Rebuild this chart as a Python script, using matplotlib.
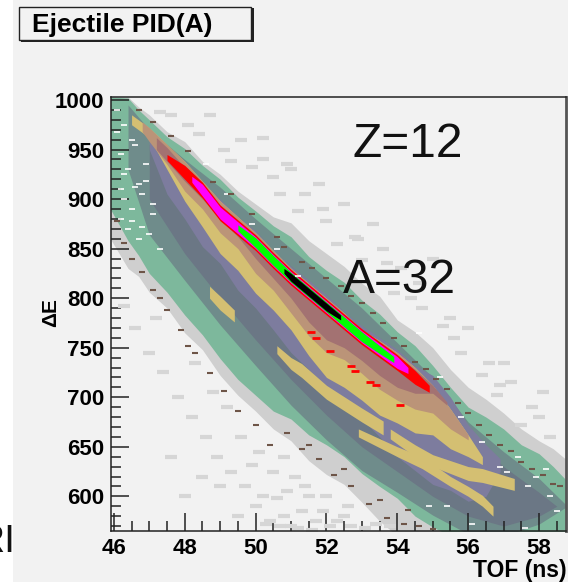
import matplotlib
matplotlib.use("Agg")
import matplotlib.pyplot as plt
from matplotlib.patches import Rectangle
from matplotlib.ticker import MultipleLocator

# bandas (TOF en ns, dE)
gray_x = [45.9, 46.4, 46.7, 47, 47.5, 48, 48.5, 49, 49.5, 50, 50.5, 51, 51.5, 52, 52.5, 53, 53.5, 54, 54.5, 55, 55.5, 56, 56.5, 57, 57.5, 58, 58.4, 58.8]
gray_top = [1003, 1003, 993, 985, 968, 958, 938, 925, 908, 895, 882, 876, 858, 845, 832, 815, 802, 778, 766, 750, 728, 710, 698, 684, 668, 656, 648, 636]
gray_bot = [860, 830, 822, 806, 790, 765, 748, 722, 702, 686, 668, 656, 636, 622, 612, 594, 575, 560, 560, 560, 560, 560, 560, 560, 560, 560, 560, 560]
green_top = [1003, 1002, 990, 980, 963, 951, 934, 920, 902, 888, 873, 862, 842, 828, 816, 798, 784, 766, 752, 732, 710, 690, 680, 668, 652, 643, 630, 615]
green_bot = [890, 858, 843, 825, 806, 783, 763, 739, 718, 702, 686, 678, 662, 652, 640, 623, 610, 598, 580, 569, 560, 560, 560, 560, 560, 560, 560, 560]

teal_x = [46.4, 47, 48, 49, 50, 51, 52, 53, 54, 55, 56, 57, 58, 58.8]
teal_top = [995, 970, 940, 912, 880, 850, 820, 790, 755, 720, 675, 645, 618, 590]
teal_bot = [930, 864, 818, 773, 732, 692, 657, 626, 604, 581, 562, 560, 572, 590]

slate_x = [47, 48, 49, 50, 51, 52, 53, 54, 55, 56, 57, 58, 58.5]
slate_top = [955, 925, 895, 860, 832, 802, 770, 740, 706, 664, 630, 604, 590]
slate_bot = [900, 845, 800, 758, 718, 682, 650, 625, 600, 580, 570, 580, 590]

purple_x = [47, 47.5, 48, 48.5, 49, 49.5, 50, 50.5, 51, 51.5, 52, 52.5, 53, 53.5, 54, 54.5, 55, 55.5, 56, 56.5, 56.9]
purple_top = [972, 952, 938, 915, 900, 882, 868, 848, 832, 818, 803, 786, 772, 760, 748, 732, 722, 700, 672, 652, 638]
purple_bot = [950, 905, 880, 852, 835, 808, 790, 768, 745, 728, 710, 692, 678, 660, 640, 626, 612, 606, 595, 600, 625]

yellow_x = [46.5, 47, 47.5, 48, 48.5, 49, 49.5, 50, 50.5, 51, 51.5, 52, 52.5, 53, 53.5, 54, 54.5, 55, 55.5, 56, 56.4]
yellow_top = [985, 972, 955, 938, 918, 898, 882, 866, 848, 830, 815, 800, 785, 768, 757, 745, 730, 712, 688, 662, 640]
yellow_bot = [975, 962, 930, 898, 872, 845, 828, 805, 788, 768, 742, 720, 710, 697, 682, 674, 664, 662, 648, 640, 632]

tan_x = [46.8, 47, 47.5, 48, 48.5, 49, 49.5, 50, 50.5, 51, 51.5, 52, 52.5, 53, 53.5, 54, 54.5, 55, 55.5, 56]
tan_top = [978, 972, 955, 938, 918, 898, 882, 866, 848, 830, 815, 800, 785, 768, 757, 745, 730, 712, 688, 662]
tan_bot = [968, 958, 935, 908, 890, 866, 850, 825, 808, 785, 762, 745, 738, 724, 708, 697, 688, 684, 668, 657]

mauve_x = [47.2, 47.5, 48, 48.5, 49, 49.5, 50, 50.5, 51, 51.5, 52, 52.5, 53, 53.5, 54, 54.5, 55, 55.4]
mauve_top = [962, 952, 932, 912, 894, 878, 863, 845, 828, 813, 798, 783, 766, 755, 742, 728, 712, 695]
mauve_bot = [950, 938, 918, 900, 880, 862, 840, 820, 800, 776, 758, 750, 737, 722, 710, 704, 704, 692]

rowb1_x = [48.7, 49, 49.4]
rowb1_top = [812, 802, 788]
rowb1_bot = [800, 788, 776]
rowb2_x = [50.6, 51, 51.3, 52, 53, 53.6]
rowb2_top = [752, 740, 734, 712, 689, 676]
rowb2_bot = [744, 728, 720, 698, 675, 662]
rowb3_x = [53.8, 54.5, 55, 56, 56.4, 57.3]
rowb3_top = [668, 652, 642, 630, 628, 618]
rowb3_bot = [658, 640, 630, 616, 614, 606]

rowc_x = [52.9, 54, 54.7, 55.5, 56, 56.4, 56.7]
rowc_top = [668, 650, 640, 620, 610, 601, 590]
rowc_bot = [660, 640, 628, 610, 600, 590, 580]

# cresta principal
ridge_x = [47.5, 48, 48.5, 49, 49.5, 50, 50.5, 51, 51.5, 52, 52.5, 53, 53.5, 54, 54.5, 54.9]
red_top = [945, 934, 917, 894, 879, 864, 846, 829, 814, 799, 784, 769, 756, 743, 727, 712]
red_bot = [939, 920, 901, 878, 863, 848, 830, 813, 798, 783, 768, 753, 740, 727, 713, 705]
mag_x = [48.2, 48.5, 49, 49.5, 50, 50.5, 51, 51.5, 52, 52.5, 53, 53.5, 54, 54.3]
mag_top = [923, 915, 892, 877, 862, 844, 827, 812, 797, 782, 767, 754, 741, 730]
mag_bot = [917, 903, 880, 865, 850, 832, 815, 800, 785, 770, 755, 742, 729, 724]
lime_x = [49.5, 50, 50.5, 51, 51.5, 52, 52.5, 53, 53.5, 53.9]
lime_top = [874, 861, 843, 826, 811, 796, 781, 766, 752, 741]
lime_bot = [868, 851, 833, 816, 801, 786, 771, 756, 744, 735]
black_x = [50.8, 51, 51.5, 52, 52.4]
black_top = [830, 825, 810, 795, 783]
black_bot = [825, 817, 802, 787, 778]

red_spot_x = [51.55, 51.7, 52.1, 52.68, 52.8, 53.24, 53.4, 54.08]
red_spot_y = [766, 760, 747, 732, 726, 715, 712, 692]

# motas sueltas
gray_speck_x = [47.3, 47.6, 48.1, 48.4, 48.7, 49.1, 49.3, 49.6, 49.9, 50.2, 50.5, 50.7, 50.9, 51.2, 51.4, 51.8, 52.0, 52.3,
                52.5, 52.9, 53.0, 53.3, 53.6, 53.9, 54.1, 54.4, 54.6, 55.0, 55.3, 55.5, 55.8, 56.0, 56.4, 56.6, 56.8, 57.0,
                57.2, 57.5, 57.8, 58.1, 58.3, 50.2, 51.0, 51.9, 52.8, 53.7, 54.7, 55.6, 56.9, 58.0]
gray_speck_y = [988, 985, 975, 966, 985, 950, 938, 960, 932, 940, 922, 905, 935, 888, 905, 915, 878, 855,
                895, 860, 838, 875, 850, 805, 830, 800, 815, 840, 772, 780, 745, 770, 722, 735, 702, 735,
                715, 672, 690, 705, 660, 962, 930, 890, 862, 835, 790, 760, 712, 680]
low_speck_x = [46.3, 46.6, 47.0, 47.4, 47.6, 47.8, 48.0, 48.2, 48.6, 48.9, 49.3, 49.7, 50.0, 50.4, 50.8, 51.1, 51.5, 51.9, 52.3,
               52.7, 53.1, 48.3, 48.8, 49.2, 49.6, 50.1, 50.5, 50.9, 51.3, 51.7, 52.1, 52.5, 49.5, 50.2, 50.7, 51.2, 51.6,
               50.3, 50.8, 51.4, 52.0, 52.6, 49.0, 49.9, 50.6, 51.0, 53.4, 53.8, 47.2, 48.5]
low_speck_y = [792, 770, 745, 725, 640, 700, 600, 680, 660, 640, 625, 610, 590, 575, 640, 620, 600, 585, 575,
               570, 568, 735, 705, 690, 660, 645, 625, 605, 585, 575, 570, 580, 580, 600, 570, 568, 566, 572, 580, 610, 600, 590,
               610, 632, 598, 570, 572, 570, 780, 620]
white_x = [46.1, 46.3, 46.5, 46.2, 46.4, 46.7, 46.3, 46.6, 46.9, 46.2, 46.5, 46.8, 47.1, 46.4, 46.7,
           47.0, 47.3, 46.1, 46.3, 46.6, 46.9, 47.1, 46.2, 46.5, 46.8, 48.6, 49.2, 49.9, 50.6, 51.2,
           54.6, 55.2, 55.8, 56.4, 56.9, 57.4, 57.9, 58.3, 58.5, 55.4, 56.1, 57.6, 54.9, 58.6, 57.1, 57.7, 58.2]
white_y = [990, 975, 960, 945, 930, 915, 900, 955, 935, 880, 890, 905, 885, 870, 860,
           865, 850, 968, 925, 912, 918, 895, 910, 878, 872, 935, 905, 875, 850, 822,
           765, 720, 680, 655, 630, 640, 620, 600, 585, 590, 572, 568, 590, 610, 625, 610, 628]
brown_x = [46.1, 46.3, 46.5, 46.8, 47.1, 47.3, 47.5, 47.9, 48.1, 48.3, 48.7, 49.1, 49.5, 50.0, 50.4, 50.9, 51.3, 51.8, 52.2,
           52.7, 53.2, 53.7, 54.2, 54.6, 55.0, 46.7, 47.1, 47.6, 48.1, 48.8, 49.3, 49.9, 50.6, 51.3, 52.0, 52.7,
           53.3, 53.9, 54.5, 55.1, 55.7, 56.3, 56.9, 57.5, 58.1, 58.6, 50.8, 51.6, 52.4, 53.0, 53.6, 54.2, 54.8,
           55.4, 56.0, 56.6, 57.2, 57.8, 58.4, 51.5, 52.5, 53.5, 54.3]
brown_y = [878, 856, 840, 826, 808, 800, 788, 768, 752, 745, 724, 706, 686, 672, 652, 664, 648, 638, 622,
           610, 592, 578, 572, 570, 567, 990, 978, 964, 948, 917, 905, 885, 862, 836, 820, 802,
           785, 760, 736, 718, 694, 672, 652, 635, 622, 610, 852, 830, 812, 795, 775, 752, 728,
           708, 684, 662, 646, 628, 612, 652, 628, 596, 586]

xticks = [46, 48, 50, 52, 54, 56, 58]
yticks = [600, 650, 700, 750, 800, 850, 900, 950, 1000]

plt.rcParams['font.family'] = ['Liberation Sans', 'DejaVu Sans']

fig = plt.figure(figsize=(5.68, 5.82), dpi=100, facecolor='white')
W, H = 568.0, 582.0

# fondo gris del panel, tapa el texto que asoma a la izquierda
rl = fig.text(16 / W, 1 - 552 / H, "RI", fontsize=28, ha='right', va='baseline', color='#111111')
rl.set_zorder(-10)
panel = Rectangle((13 / W, 0), 555 / W, 1, transform=fig.transFigure,
                  facecolor='#f2f2f2', edgecolor='none', zorder=-5)
fig.patches.append(panel)

ax = fig.add_axes([111 / W, 1 - 531 / H, 455 / W, 434 / H])
ax.set_facecolor('#f2f2f2')

ax.plot(gray_speck_x, gray_speck_y, ls='none', marker='_', ms=8, mew=3, color='#d6d6d6')
ax.plot(low_speck_x, low_speck_y, ls='none', marker='_', ms=8, mew=3, color='#d6d6d6')
ax.fill_between(gray_x, gray_bot, gray_top, color='#cfcfcf', lw=0)
ax.fill_between(gray_x, green_bot, green_top, color='#7db89c', lw=0)
ax.fill_between(teal_x, teal_bot, teal_top, color='#6f8c8b', lw=0)
ax.fill_between(slate_x, slate_bot, slate_top, color='#6b7785', lw=0)
ax.fill_between(purple_x, purple_bot, purple_top, color='#7d7c9e', lw=0)
ax.fill_between(yellow_x, yellow_bot, yellow_top, color='#d4bf72', lw=0)
ax.fill_between(rowb1_x, rowb1_bot, rowb1_top, color='#d4bf72', lw=0)
ax.fill_between(rowb2_x, rowb2_bot, rowb2_top, color='#d4bf72', lw=0)
ax.fill_between(rowb3_x, rowb3_bot, rowb3_top, color='#d4bf72', lw=0)
ax.fill_between(rowc_x, rowc_bot, rowc_top, color='#d4bf72', lw=0)
ax.fill_between(tan_x, tan_bot, tan_top, color='#bb9478', lw=0)
ax.fill_between(mauve_x, mauve_bot, mauve_top, color='#a37272', lw=0)
ax.fill_between(ridge_x, red_bot, red_top, color='#ff0000', lw=0)
ax.fill_between(mag_x, mag_bot, mag_top, color='#ff00ff', lw=0)
ax.fill_between(lime_x, lime_bot, lime_top, color='#00ff00', lw=0)
ax.fill_between(black_x, black_bot, black_top, color='black', lw=0)
ax.plot(red_spot_x, red_spot_y, ls='none', marker='_', ms=6, mew=2, color='#ff0000')
ax.plot(white_x, white_y, ls='none', marker='_', ms=5, mew=1.2, color='white')
ax.plot(brown_x, brown_y, ls='none', marker='_', ms=4, mew=1.5, color='#6e5548')

ax.set_xlim(45.92, 58.76)
ax.set_ylim(565, 1003)
ax.set_xticks(xticks)
ax.set_yticks(yticks)
ax.xaxis.set_minor_locator(MultipleLocator(0.5))
ax.yaxis.set_minor_locator(MultipleLocator(10))
ax.tick_params(which='major', direction='in', length=13, width=1.1, labelsize=16, pad=5, color='#222222')
ax.tick_params(which='minor', direction='in', length=7, width=1.1, color='#222222')
for lab in ax.get_xticklabels() + ax.get_yticklabels():
    lab.set_fontweight('bold')
for s in ax.spines.values():
    s.set_color('#222222')
    s.set_linewidth(1.1)
ax.spines['right'].set_color('#555555')
ax.spines['right'].set_linewidth(2)

fig.text(567 / W, 1 - 570 / H, "TOF (ns)", fontsize=16.5, fontweight='bold', ha='right', va='center')
fig.text(51 / W, 1 - 313 / H, "\u0394E", fontsize=15, fontweight='bold', rotation=90, ha='center', va='center')
fig.text(353 / W, 1 - 157 / H, "Z=12", fontsize=34.5, ha='left', va='baseline', color='#111111')
fig.text(343 / W, 1 - 293 / H, "A=32", fontsize=34.5, ha='left', va='baseline', color='#111111')

# caja del titulo con sombra
fig.patches.append(Rectangle((21 / W, 1 - 42 / H), 233 / W, 34 / H, transform=fig.transFigure,
                             facecolor='#222222', edgecolor='none'))
fig.patches.append(Rectangle((19 / W, 1 - 40 / H), 232 / W, 33 / H, transform=fig.transFigure,
                             facecolor='#f2f2f2', edgecolor='#222222', lw=1))
fig.text(32 / W, 1 - 25 / H, "Ejectile PID(A)", fontsize=19, fontweight='bold', ha='left', va='center')

fig.savefig("out.png", dpi=100)
